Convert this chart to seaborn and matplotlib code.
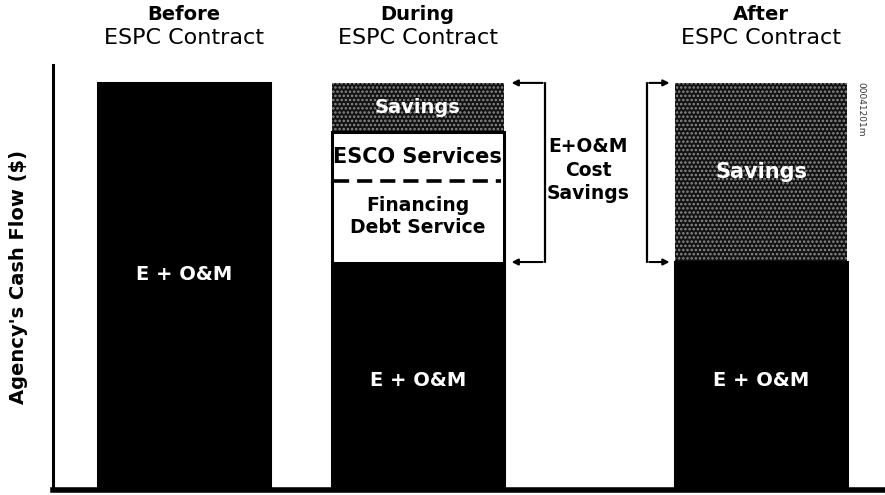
import numpy as np
import pandas as pd
import seaborn as sns
import matplotlib.pyplot as plt

sns.set_style("white")
plt.rcParams['font.family'] = ['DejaVu Sans']
plt.rcParams['text.color'] = 'black'
plt.rcParams['axes.labelcolor'] = 'black'
plt.rcParams['hatch.linewidth'] = 1.2

# data (share of agency's cash flow, before = 100)
stages = ["Before", "During", "After"]
eom = [100, 56, 56]
financing = [0, 20, 0]
esco = [0, 12, 0]
savings = [0, 12, 44]

# layout: bar centres (the after bar sits further out)
BAR_X = [0, 1, 2.47]

eom_top = np.array(eom)
fin_top = eom_top + np.array(financing)
esco_top = fin_top + np.array(esco)
sav_top = esco_top + np.array(savings)

df = pd.DataFrame({"x": BAR_X, "stage": stages, "eom": eom_top,
                   "fin": fin_top, "esco": esco_top, "sav": sav_top})

fig = plt.figure(figsize=(8.85, 4.95), dpi=100)
ax = fig.add_axes([0.06, 0.0101, 0.94, 0.8586])

bar_w = 0.735
# draw cumulative layers from the top down so each one covers the next
sns.barplot(data=df, x="x", y="sav", native_scale=True, width=bar_w, ax=ax,
            color="#121212", saturation=1, hatch="....", edgecolor="#8c8c8c",
            linewidth=0, errorbar=None)
sns.barplot(data=df, x="x", y="esco", native_scale=True, width=bar_w, ax=ax,
            color="white", saturation=1, edgecolor="black", linewidth=2.2,
            errorbar=None)
sns.barplot(data=df, x="x", y="eom", native_scale=True, width=bar_w, ax=ax,
            color="black", saturation=1, linewidth=0, errorbar=None)

ax.set_xlim(-0.56, 3.0)
ax.set_ylim(0, 104.4)
ax.set_xticks([])
ax.set_yticks([])
ax.set_xlabel("")
for s in ["top", "right"]:
    ax.spines[s].set_visible(False)
ax.spines["left"].set_linewidth(2.2)
ax.spines["bottom"].set_linewidth(4)
ax.spines["left"].set_color("black")
ax.spines["bottom"].set_color("black")
ax.set_ylabel("Agency's Cash Flow ($)", fontsize=14, fontweight="bold", labelpad=18)

# column headings
for xi, st in zip(BAR_X, stages):
    ax.text(xi, 116.7, st, ha="center", va="center", fontsize=14,
            fontweight="bold", clip_on=False)
    ax.text(xi, 111.0, "ESPC Contract", ha="center", va="center",
            fontsize=16, clip_on=False)

# segment labels
ax.text(BAR_X[0], eom[0] * 0.53, "E + O&M", color="white", ha="center",
        va="center", fontsize=14, fontweight="bold")
for xi in BAR_X[1:]:
    ax.text(xi, 27, "E + O&M", color="white", ha="center", va="center",
            fontsize=14, fontweight="bold")

ax.text(BAR_X[1], (esco_top[1] + sav_top[1]) / 2, "Savings", color="white",
        ha="center", va="center", fontsize=14, fontweight="bold")
ax.text(BAR_X[1], 81.8, "ESCO Services", ha="center", va="center",
        fontsize=15, fontweight="bold")
ax.plot([BAR_X[1] - bar_w / 2 + 0.01, BAR_X[1] + bar_w / 2 - 0.01],
        [fin_top[1], fin_top[1]], color="black", lw=2.6, dashes=[4.2, 2.2])
ax.text(BAR_X[1], 67.2, "Financing\nDebt Service", ha="center", va="center",
        fontsize=13.5, fontweight="bold", linespacing=1.15)
ax.text(BAR_X[2], 78, "Savings", color="white", ha="center", va="center",
        fontsize=15, fontweight="bold")

# brackets marking E+O&M cost savings
lo, hi = eom_top[1], sav_top[1]
bx1, bx2 = 1.543, 1.983
ax.plot([bx1, bx1], [lo, hi], color="black", lw=1.6)
ax.plot([bx2, bx2], [lo, hi], color="black", lw=1.6)
for yy in (lo, hi):
    ax.annotate("", xy=(1.39, yy), xytext=(bx1 + 0.004, yy),
                arrowprops=dict(arrowstyle="-|>", lw=1.5, color="black",
                                mutation_scale=9))
    ax.annotate("", xy=(2.09, yy), xytext=(bx2 - 0.004, yy),
                arrowprops=dict(arrowstyle="-|>", lw=1.5, color="black",
                                mutation_scale=9))
ax.text(1.73, 78.6, "E+O&M\nCost\nSavings", ha="center",
        va="center", fontsize=13.5, fontweight="bold", linespacing=1.3)

# scan id in the margin
ax.text(2.897, 93.5, "00041201m", rotation=270, ha="center", va="center",
        fontsize=6.5, color="#333333")

fig.savefig("out.png", dpi=100)
